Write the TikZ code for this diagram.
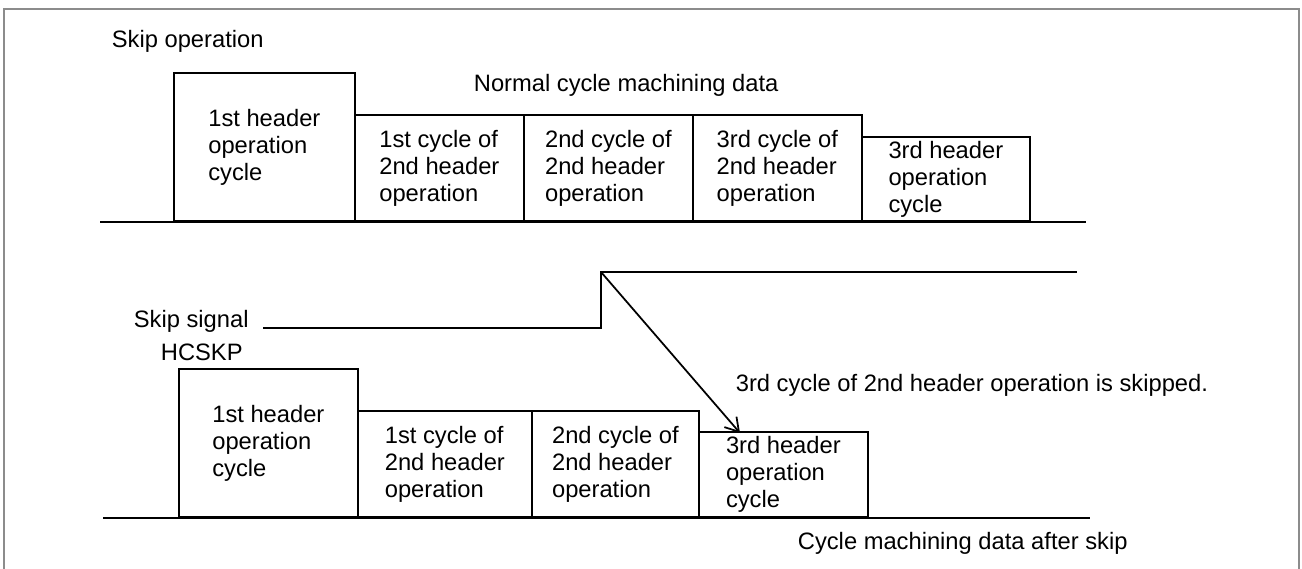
\documentclass[tikz,border=0pt]{standalone}
\usepackage{fontspec}
\setmainfont{Liberation Sans}
\usepackage{tikz}
\usetikzlibrary{arrows.meta,positioning}
\definecolor{frameGray}{HTML}{8C8C8C}

\begin{document}
\begin{tikzpicture}[font=\fontsize{13.5}{15.3}\selectfont, line width=1pt,
  opbox/.style={draw, anchor=south west, align=left, inner sep=0pt},
  lbl/.style={anchor=west, inner sep=0pt}]
\useasboundingbox (0,0) rectangle (26.04,-11.38);
\draw[frameGray, line width=1.2pt] (0.08,-11.6) -- (0.08,-0.18) -- (25.98,-0.18) -- (25.98,-11.6);
% normal cycle
\node[lbl] (skipOp) at (2.22,-0.82) {Skip operation};
\node[lbl] (normTitle) at (9.46,-1.70) {Normal cycle machining data};
\coordinate (topL) at (2.00,-4.44);
\coordinate (topR) at (21.72,-4.44);
\draw (topL) -- (topR);
\node[opbox, minimum width=3.62cm, minimum height=2.96cm] (topA) at (3.46,-4.44) {1st header\\operation\\cycle};
\node[opbox, minimum width=3.38cm, minimum height=2.12cm] (topB) at (7.08,-4.44) {1st cycle of\\2nd header\\operation};
\node[opbox, minimum width=3.38cm, minimum height=2.12cm] (topC) at (10.46,-4.44) {2nd cycle of\\2nd header\\operation};
\node[opbox, minimum width=3.38cm, minimum height=2.12cm] (topD) at (13.84,-4.44) {3rd cycle of\\2nd header\\operation};
\node[opbox, minimum width=3.36cm, minimum height=1.68cm] (topE) at (17.22,-4.44) {3rd header\\operation\\cycle};
% skip signal
\node[lbl] (sigName) at (2.66,-6.42) {Skip signal};
\node[lbl] (sigCode) at (3.20,-7.04) {HCSKP};
\coordinate (sigLow) at (5.26,-6.56);
\coordinate (sigRise) at (12.02,-5.44);
\coordinate (sigEnd) at (21.54,-5.44);
\draw (sigLow) -| (sigRise) -- (sigEnd);
\node[lbl] (skipNote) at (14.70,-7.70) {3rd cycle of 2nd header operation is skipped.};
% after skip
\coordinate (lowL) at (2.06,-10.36);
\coordinate (lowR) at (21.80,-10.36);
\draw (lowL) -- (lowR);
\node[opbox, minimum width=3.58cm, minimum height=2.96cm] (lowA) at (3.56,-10.36) {1st header\\operation\\cycle};
\node[opbox, minimum width=3.48cm, minimum height=2.12cm] (lowB) at (7.14,-10.36) {1st cycle of\\2nd header\\operation};
\node[opbox, minimum width=3.34cm, minimum height=2.12cm] (lowC) at (10.62,-10.36) {2nd cycle of\\2nd header\\operation};
\node[opbox, minimum width=3.38cm, minimum height=1.70cm] (lowD) at (13.96,-10.36) {3rd header\\operation\\cycle};
\coordinate (skipTip) at (14.80,-8.66);
\draw[-{Straight Barb[length=2.6mm,width=3.2mm]}] (sigRise) -- (skipTip);
\node[lbl] (afterTitle) at (15.94,-10.86) {Cycle machining data after skip};
\end{tikzpicture}
\end{document}
